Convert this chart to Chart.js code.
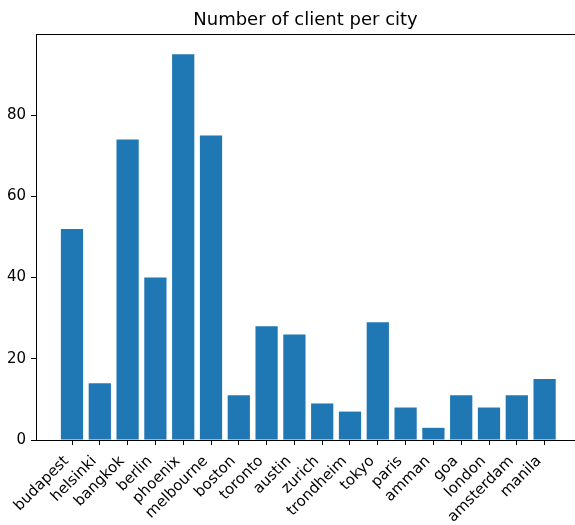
<!DOCTYPE html>
<html>
<head>
<meta charset="utf-8">
<script src="https://cdn.jsdelivr.net/npm/chart.js@4/dist/chart.umd.min.js"></script>
<style>
  html, body { margin: 0; padding: 0; background: #ffffff; }
  canvas { display: block; }
</style>
</head>
<body>
<canvas id="chart" width="575" height="525"></canvas>
<script>
// Clients per city
const cities = ['budapest', 'helsinki', 'bangkok', 'berlin', 'phoenix', 'melbourne',
  'boston', 'toronto', 'austin', 'zurich', 'trondheim', 'tokyo', 'paris', 'amman',
  'goa', 'london', 'amsterdam', 'manila'];
const clients = [52, 14, 74, 40, 95, 75, 11, 28, 26, 9, 7, 29, 8, 3, 11, 8, 11, 15];
const yTicks = [0, 20, 40, 60, 80];

const FONT = "'DejaVu Sans', sans-serif";
const INK = '#000000';

// x runs from a little left of the first bar; the right edge continues past the canvas
const plotLeft = 36;
const unitPx = 27.8;
const xMin = -(72 - plotLeft) / unitPx;
const xMax = xMin + (575 - plotLeft) / unitPx;

new Chart(document.getElementById('chart'), {
  type: 'bar',
  data: {
    datasets: [{
      data: cities.map((c, i) => ({ x: i, y: clients[i] })),
      backgroundColor: '#1f77b4',
      borderWidth: 0,
      barPercentage: 0.8,
      categoryPercentage: 1.0
    }]
  },
  options: {
    responsive: false,
    animation: false,
    devicePixelRatio: 1,
    layout: { padding: 0 },
    plugins: {
      legend: { display: false },
      tooltip: { enabled: false },
      title: {
        display: true,
        fullSize: false,
        text: 'Number of client per city',
        color: INK,
        font: { family: FONT, size: 18, weight: 'normal', lineHeight: 1.2 },
        padding: { top: 10, bottom: 2.4 }
      }
    },
    scales: {
      x: {
        type: 'linear',
        position: 'bottom',
        offset: false,
        min: xMin,
        max: xMax,
        afterBuildTicks: (scale) => { scale.ticks = cities.map((c, i) => ({ value: i })); },
        afterFit: (scale) => { scale.height = 85; },
        grid: { display: true, offset: false, drawOnChartArea: false, drawTicks: true, tickLength: 5, color: INK, tickWidth: 1 },
        border: { display: true, color: INK, width: 1 },
        ticks: {
          autoSkip: false,
          maxRotation: 45,
          minRotation: 45,
          padding: 7.5,
          labelOffset: -5.5,
          color: INK,
          font: { family: FONT, size: 15 },
          callback: (v) => cities[v]
        }
      },
      x2: {
        type: 'linear',
        position: 'top',
        offset: false,
        min: xMin,
        max: xMax,
        afterFit: (scale) => { scale.height = 0; },
        grid: { display: false, drawTicks: false },
        border: { display: true, color: INK, width: 1 },
        ticks: { display: false }
      },
      y: {
        type: 'linear',
        min: 0,
        max: 100,
        afterBuildTicks: (scale) => { scale.ticks = yTicks.map(v => ({ value: v })); },
        afterFit: (scale) => { scale.width = plotLeft; },
        grid: { display: true, drawOnChartArea: false, drawTicks: true, tickLength: 5, color: INK, tickWidth: 1 },
        border: { display: true, color: INK, width: 1 },
        ticks: {
          padding: 5,
          color: INK,
          font: { family: FONT, size: 15 }
        }
      }
    }
  }
});
</script>
</body>
</html>
